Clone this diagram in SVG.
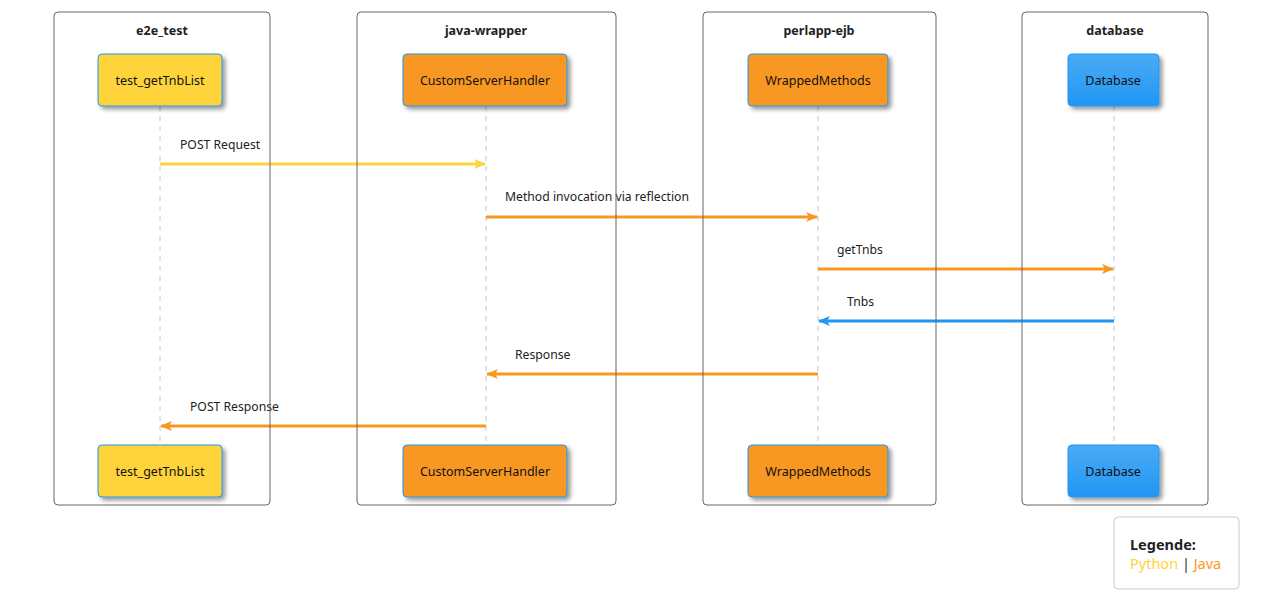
<svg xmlns="http://www.w3.org/2000/svg" width="1262" height="612" viewBox="0 0 1262 612">
<style>
text{font-family:"Noto Sans","Open Sans","DejaVu Sans",sans-serif;}
.grp{fill:none;stroke:#666;stroke-width:1;}
.gt{font-size:12.5px;font-weight:bold;fill:#222;text-anchor:middle;}
.nt{font-size:12.5px;fill:#111;text-anchor:middle;}
.ml{font-size:12.2px;fill:#222;}
.life{stroke:#c4c4c4;stroke-width:1;stroke-dasharray:5,5;}
.py{fill:#FFD43B;stroke:#2196F3;stroke-width:1;}
.jv{fill:#F89820;stroke:#2196F3;stroke-width:1;}
.db{fill:url(#dbg);stroke:#2196F3;stroke-width:1;}
.msg{stroke-width:2.8;fill:none;}
</style>
<defs>
<linearGradient id="dbg" x1="0" y1="0" x2="0" y2="1">
<stop offset="0" stop-color="#4AABF5"/>
<stop offset="1" stop-color="#2196F3"/>
</linearGradient>
<filter id="sh" x="-20%" y="-20%" width="150%" height="160%">
<feGaussianBlur in="SourceAlpha" stdDeviation="2"/>
<feOffset dx="3" dy="3" result="b"/>
<feComponentTransfer><feFuncA type="linear" slope="0.4"/></feComponentTransfer>
<feMerge><feMergeNode/><feMergeNode in="SourceGraphic"/></feMerge>
</filter>
<marker id="aY" viewBox="0 0 12 10" refX="11" refY="5" markerWidth="12" markerHeight="10" markerUnits="userSpaceOnUse" orient="auto"><path d="M0,0 L12,5 L0,10 L3,5 Z" fill="#FFD43B"/></marker>
<marker id="aO" viewBox="0 0 12 10" refX="11" refY="5" markerWidth="12" markerHeight="10" markerUnits="userSpaceOnUse" orient="auto"><path d="M0,0 L12,5 L0,10 L3,5 Z" fill="#F89820"/></marker>
<marker id="aB" viewBox="0 0 12 10" refX="11" refY="5" markerWidth="12" markerHeight="10" markerUnits="userSpaceOnUse" orient="auto"><path d="M0,0 L12,5 L0,10 L3,5 Z" fill="#2196F3"/></marker>
</defs>
<rect width="1262" height="612" fill="#fff"/>

<g id="lifelines">
<line class="life" x1="160" y1="106" x2="160" y2="445"/>
<line class="life" x1="486" y1="106" x2="486" y2="445"/>
<line class="life" x1="818" y1="106" x2="818" y2="445"/>
<line class="life" x1="1114" y1="106" x2="1114" y2="445"/>
</g>

<g id="connectors">
<line class="msg" x1="160" y1="164" x2="485" y2="164" stroke="#FFD43B" marker-end="url(#aY)"/>
<text class="ml" x="180" y="149">POST Request</text>
<line class="msg" x1="486" y1="217" x2="817" y2="217" stroke="#F89820" marker-end="url(#aO)"/>
<text class="ml" x="505" y="201">Method invocation via reflection</text>
<line class="msg" x1="818" y1="269" x2="1113" y2="269" stroke="#F89820" marker-end="url(#aO)"/>
<text class="ml" x="837" y="254">getTnbs</text>
<line class="msg" x1="1114" y1="321" x2="819" y2="321" stroke="#2196F3" marker-end="url(#aB)"/>
<text class="ml" x="847" y="306">Tnbs</text>
<line class="msg" x1="818" y1="374" x2="487" y2="374" stroke="#F89820" marker-end="url(#aO)"/>
<text class="ml" x="515" y="359">Response</text>
<line class="msg" x1="486" y1="426" x2="161" y2="426" stroke="#F89820" marker-end="url(#aO)"/>
<text class="ml" x="190" y="411">POST Response</text>
</g>

<g id="e2e_test">
<rect class="grp" x="54" y="12" width="216" height="493" rx="4"/>
<text class="gt" x="162" y="35">e2e_test</text>
</g>
<g id="java-wrapper">
<rect class="grp" x="357" y="12" width="259" height="493" rx="4"/>
<text class="gt" x="486" y="35">java-wrapper</text>
</g>
<g id="perlapp-ejb">
<rect class="grp" x="703" y="12" width="233" height="493" rx="4"/>
<text class="gt" x="819" y="35">perlapp-ejb</text>
</g>
<g id="database">
<rect class="grp" x="1022" y="12" width="186" height="493" rx="4"/>
<text class="gt" x="1115" y="35">database</text>
</g>

<g id="test_getTnbList_top">
<rect class="py" x="98" y="54" width="124" height="52" rx="4" filter="url(#sh)"/>
<text class="nt" x="160" y="85">test_getTnbList</text>
</g>
<g id="CustomServerHandler_top">
<rect class="jv" x="403" y="54" width="164" height="52" rx="4" filter="url(#sh)"/>
<text class="nt" x="485" y="85">CustomServerHandler</text>
</g>
<g id="WrappedMethods_top">
<rect class="jv" x="748" y="54" width="140" height="52" rx="4" filter="url(#sh)"/>
<text class="nt" x="818" y="85">WrappedMethods</text>
</g>
<g id="Database_top">
<rect class="db" x="1068" y="54" width="91" height="52" rx="4" filter="url(#sh)"/>
<text class="nt" x="1113" y="85">Database</text>
</g>

<g id="test_getTnbList_bottom">
<rect class="py" x="98" y="445" width="124" height="52" rx="4" filter="url(#sh)"/>
<text class="nt" x="160" y="476">test_getTnbList</text>
</g>
<g id="CustomServerHandler_bottom">
<rect class="jv" x="403" y="445" width="164" height="52" rx="4" filter="url(#sh)"/>
<text class="nt" x="485" y="476">CustomServerHandler</text>
</g>
<g id="WrappedMethods_bottom">
<rect class="jv" x="748" y="445" width="140" height="52" rx="4" filter="url(#sh)"/>
<text class="nt" x="818" y="476">WrappedMethods</text>
</g>
<g id="Database_bottom">
<rect class="db" x="1068" y="445" width="91" height="52" rx="4" filter="url(#sh)"/>
<text class="nt" x="1113" y="476">Database</text>
</g>

<g id="legend">
<rect x="1114" y="517" width="125" height="72" rx="4" fill="#fff" stroke="#ccc" stroke-width="1"/>
<text x="1130" y="550" font-size="14.5" font-weight="bold" fill="#222">Legende:</text>
<text x="1130" y="569" font-size="14.5"><tspan fill="#FFD43B">Python</tspan><tspan fill="#333"> | </tspan><tspan fill="#F89820">Java</tspan></text>
</g>
</svg>
